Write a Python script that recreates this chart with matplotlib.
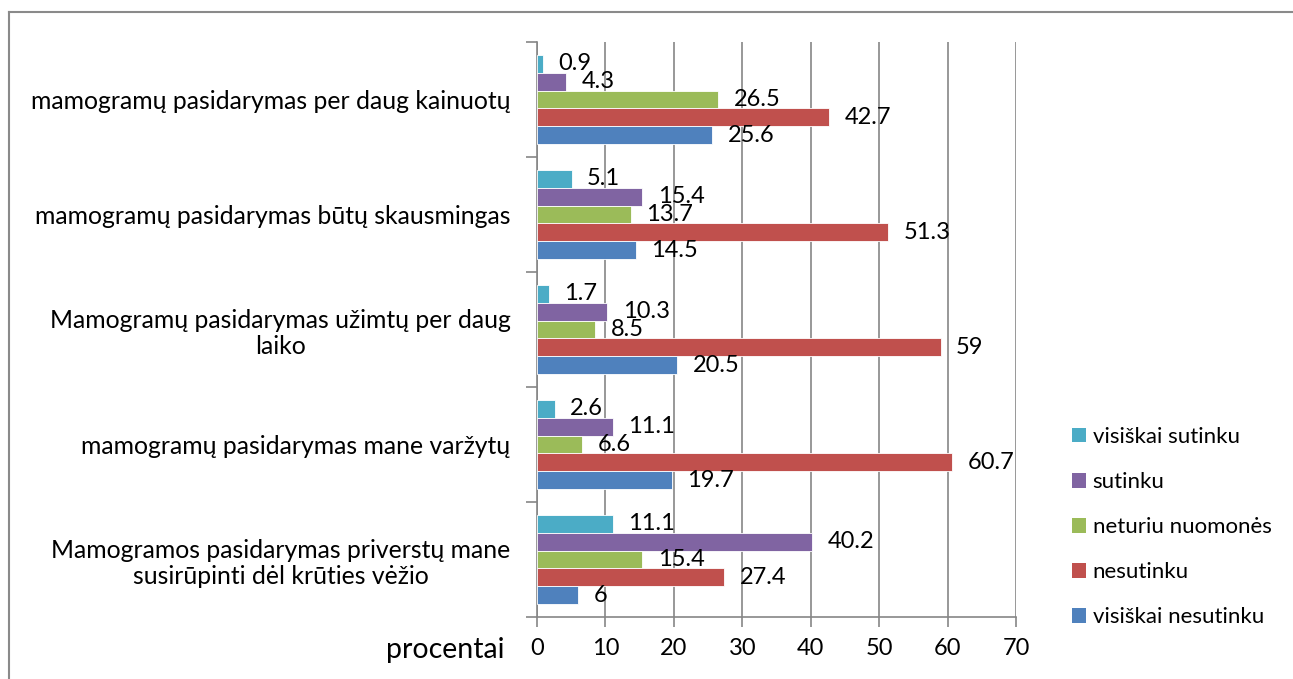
import matplotlib
matplotlib.use("Agg")
from matplotlib import pyplot as plt
from matplotlib.patches import Patch
from matplotlib.lines import Line2D
import numpy as np

plt.rcParams['font.family'] = ['Lato', 'DejaVu Sans']

categories = [
    "mamogramų pasidarymas per daug kainuotų",
    "mamogramų pasidarymas būtų skausmingas",
    "Mamogramų pasidarymas užimtų per daug\nlaiko",
    "mamogramų pasidarymas mane varžytų",
    "Mamogramos pasidarymas priverstų mane\nsusirūpinti dėl krūties vėžio",
]
series_names = ["visiškai sutinku", "sutinku", "neturiu nuomonės",
                "nesutinku", "visiškai nesutinku"]
visiskai_sutinku = [0.9, 5.1, 1.7, 2.6, 11.1]
sutinku = [4.3, 15.4, 10.3, 11.1, 40.2]
neturiu_nuomones = [26.5, 13.7, 8.5, 6.6, 15.4]
nesutinku = [42.7, 51.3, 59, 60.7, 27.4]
visiskai_nesutinku = [25.6, 14.5, 20.5, 19.7, 6]
colors = ["#4BACC6", "#8064A2", "#9BBB59", "#C0504D", "#4F81BD"]

all_series = [visiskai_sutinku, sutinku, neturiu_nuomones, nesutinku, visiskai_nesutinku]

fig = plt.figure(figsize=(12.93, 6.79), dpi=100)
ax = fig.add_axes([537 / 1293, 62 / 679, (1016 - 537) / 1293, (617 - 42) / 679])

grey = "#868686"
h = 0.155
y = np.arange(len(categories))
for j, vals in enumerate(all_series):
    pos = y + (j - 2) * h
    ax.barh(pos, vals, height=h, color=colors[j], edgecolor="white",
            linewidth=0.6, zorder=3)
    for v, p in zip(vals, pos):
        ax.annotate(f"{v:g}", (v, p), xytext=(11, 0), textcoords="offset points",
                    ha="left", va="center", fontsize=17, zorder=4)

ax.set_xlim(0, 70)
ax.set_ylim(len(categories) - 0.5, -0.5)
ax.set_xticks(np.arange(0, 71, 10))
ax.set_yticks(y)
ax.set_yticklabels(categories, fontsize=17.8, multialignment="center")
ax.set_yticks(np.arange(-0.5, len(categories), 1), minor=True)
ax.tick_params(axis="y", which="major", length=0, pad=19)
ax.tick_params(axis="y", which="minor", length=8, color=grey, width=1.2)
ax.tick_params(axis="x", length=7, color=grey, width=1.2, labelsize=17, pad=8)
ax.grid(axis="x", color=grey, linewidth=1.2, zorder=0)
for s in ["top", "right"]:
    ax.spines[s].set_visible(False)
for s in ["left", "bottom"]:
    ax.spines[s].set_color(grey)
    ax.spines[s].set_linewidth(1.2)

fig.text(505 / 1293, 1 - 650 / 679, "procentai", ha="right", va="center", fontsize=20.5)

handles = [Patch(facecolor=c, edgecolor="none") for c in colors]
fig.legend(handles, series_names, loc="upper left",
           bbox_to_anchor=(1072 / 1293, 1 - 427 / 679), frameon=False,
           fontsize=16, handlelength=0.63, handleheight=0.63, handletextpad=0.3,
           labelspacing=1.13, borderpad=0, borderaxespad=0)

# chart area border (only top and left visible)
fig.add_artist(Line2D([8.5 / 1293, 1], [1 - 11.5 / 679] * 2, color="#8a8a8a",
                      linewidth=1.5, transform=fig.transFigure))
fig.add_artist(Line2D([8.5 / 1293] * 2, [0, 1 - 11.5 / 679], color="#8a8a8a",
                      linewidth=1.5, transform=fig.transFigure))

fig.savefig("out.png", dpi=100)
